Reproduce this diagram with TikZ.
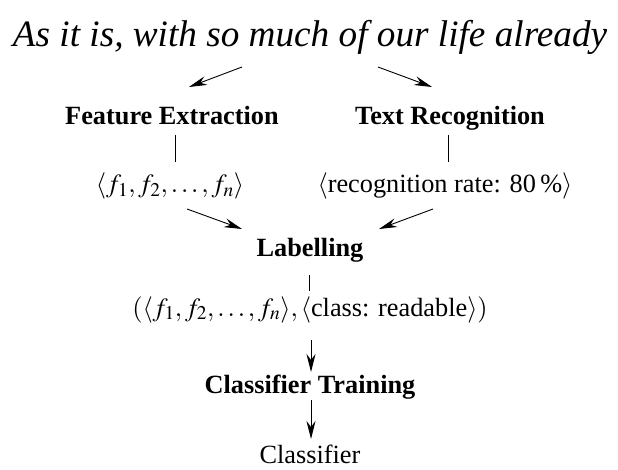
\documentclass[tikz,border=0pt]{standalone}
\usepackage{mathptmx}
\usepackage[no-math]{fontspec}
\setmainfont{Liberation Serif}
\usepackage{tikz}
\usetikzlibrary{arrows.meta, positioning}
\newcommand{\stepsize}{\fontsize{26.3}{30}\selectfont}
\tikzset{
  stagenode/.style={anchor=base, inner sep=0pt, font=\stepsize\bfseries},
  datanode/.style={anchor=base, inner sep=0pt, font=\stepsize},
  inkline/.style={line width=0.9pt},
  arrow/.style={-{Stealth[length=18pt, width=9pt, inset=6pt]}, line width=0.9pt}
}

\begin{document}
\begin{tikzpicture}[x=1pt, y=-1pt]
  \useasboundingbox (0,0) rectangle (618,470);

  % Input line
  \node[inner sep=0pt] (hand) at (310,37)
    {\resizebox{594pt}{!}{\itshape As it is, with so much of our life already}};

  % Stages and their outputs
  \node[stagenode] (feat) at (172,125) {Feature Extraction};
  \node[stagenode] (reco) at (450,125) {Text Recognition};
  \node[datanode] (fvec) at (170,193) {$\langle f_1, f_2, \ldots, f_n\rangle$};
  \node[datanode] (rate) at (445,193) {$\langle$recognition rate: 80\,\%$\rangle$};
  \node[stagenode] (label) at (310,257) {Labelling};
  \node[datanode] (tuple) at (310,316) {$(\langle f_1, f_2, \ldots, f_n\rangle, \langle$class: readable$\rangle)$};
  \node[stagenode] (train) at (310,393) {Classifier Training};
  \node[datanode] (clf) at (310,463) {Classifier};

  % Connectors
  \draw[arrow] ([shift={(-68,30)}]hand.center) -- ([shift={(17,-38)}]feat.base);
  \draw[arrow] ([shift={(68,30)}]hand.center) -- ([shift={(-18,-38)}]reco.base);
  \draw[inkline] ([shift={(3,10)}]feat.base) -- ([shift={(5,-31)}]fvec.base);
  \draw[inkline] ([shift={(-2,10)}]reco.base) -- ([shift={(3,-31)}]rate.base);
  \draw[arrow] ([shift={(17,16)}]fvec.base) -- ([shift={(-68,-28)}]label.base);
  \draw[arrow] ([shift={(-12,16)}]rate.base) -- ([shift={(69,-28)}]label.base);
  \draw[inkline] ([shift={(-1,18)}]label.base) -- ([shift={(-1,-25)}]tuple.base);
  \draw[arrow] ([shift={(1,24)}]tuple.base) -- ([shift={(1,-21)}]train.base);
  \draw[arrow] ([shift={(1,7)}]train.base) -- ([shift={(1,-24)}]clf.base);
\end{tikzpicture}
\end{document}
